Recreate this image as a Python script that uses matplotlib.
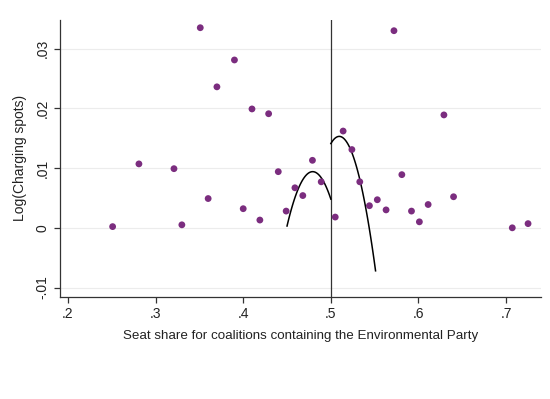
import numpy as np
import matplotlib
matplotlib.use("Agg")
import matplotlib.pyplot as plt

plt.rcParams["font.family"] = ["Liberation Sans", "DejaVu Sans"]

# binned scatter points: seat share vs log(charging spots)
seat_share = [0.251, 0.281, 0.321, 0.330, 0.351, 0.360, 0.370, 0.390, 0.400,
              0.410, 0.419, 0.429, 0.440, 0.449, 0.459, 0.468, 0.479, 0.489,
              0.505, 0.514, 0.524, 0.533, 0.544, 0.553, 0.563, 0.572, 0.581,
              0.592, 0.601, 0.611, 0.629, 0.640, 0.707, 0.725]
log_spots = [0.0002, 0.0107, 0.0099, 0.0005, 0.0335, 0.0049, 0.0236, 0.0281,
             0.0032, 0.0199, 0.0013, 0.0191, 0.0094, 0.0028, 0.0067, 0.0054,
             0.0113, 0.0077, 0.0018, 0.0162, 0.0131, 0.0077, 0.0037, 0.0047,
             0.0030, 0.0330, 0.0089, 0.0028, 0.0010, 0.0039, 0.0189, 0.0052,
             0.0000, 0.0007]

# quadratic fits on each side of the cutoff (start, peak, end as read)
left_fit_x = [0.450, 0.479, 0.500]
left_fit_y = [0.0003, 0.0094, 0.0048]
right_fit_x = [0.500, 0.509, 0.551]
right_fit_y = [0.0141, 0.0153, -0.0072]

cutoff = 0.5
x_ticks = [0.2, 0.3, 0.4, 0.5, 0.6, 0.7]
x_labels = [".2", ".3", ".4", ".5", ".6", ".7"]
y_ticks = [-0.01, 0, 0.01, 0.02, 0.03]
y_labels = ["-.01", "0", ".01", ".02", ".03"]

fig = plt.figure(figsize=(5.5, 3.99), dpi=100)
ax = fig.add_axes([0.109, 0.256, 0.875, 0.694])

for y in y_ticks:
    ax.axhline(y, color="#ececec", lw=0.8, zorder=0)

ax.scatter(seat_share, log_spots, s=24, color="#7b2d7f", edgecolors="none", zorder=3)

for fx, fy in [(left_fit_x, left_fit_y), (right_fit_x, right_fit_y)]:
    coefs = np.polyfit(fx, fy, 2)
    xs = np.linspace(fx[0], fx[-1], 100)
    ax.plot(xs, np.polyval(coefs, xs), color="black", lw=1.1, zorder=2)

ax.axvline(cutoff, color="#333333", lw=0.9, zorder=1)

ax.set_xlim(0.1909, 0.740)
ax.set_ylim(-0.01156, 0.0348)
ax.set_xticks(x_ticks)
ax.set_xticklabels(x_labels)
ax.set_yticks(y_ticks)
ax.set_yticklabels(y_labels, rotation=90, va="center")

for side in ["top", "right"]:
    ax.spines[side].set_visible(False)
for side in ["left", "bottom"]:
    ax.spines[side].set_color("#333333")
    ax.spines[side].set_linewidth(0.9)
ax.tick_params(direction="out", length=4, width=0.9, color="#333333",
               labelsize=10, labelcolor="#222222")

ax.set_xlabel("Seat share for coalitions containing the Environmental Party",
              fontsize=9.6, color="#222222", labelpad=6)
ax.set_ylabel("Log(Charging spots)", fontsize=10, color="#222222", labelpad=6)

fig.savefig("out.png", dpi=100, facecolor="white")
